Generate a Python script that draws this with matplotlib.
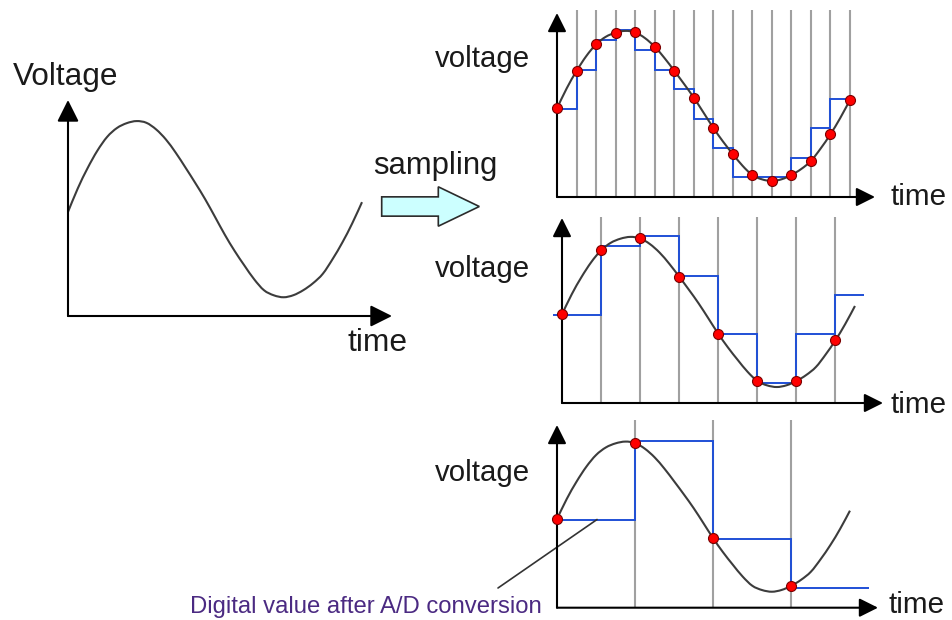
import matplotlib.pyplot as plt
from matplotlib.patches import FancyArrow, PathPatch
from matplotlib.path import Path

plt.rcParams['font.family'] = ['Liberation Sans', 'DejaVu Sans']

W, H = 953, 620

# analog signal, read every half sample period (1 time unit = top panel sample spacing)
signal_t = [i / 2 for i in range(31)]
signal_v = [9.05, 11.1, 12.86, 14.38, 15.58, 16.35, 16.77, 16.95, 16.8, 16.22,
            15.34, 14.19, 12.89, 11.55, 10.15, 8.62, 7.07, 5.66, 4.39, 3.19,
            2.24, 1.8, 1.63, 1.81, 2.24, 2.85, 3.67, 4.95, 6.4, 8.05, 9.9]

# digital values after A/D conversion, held between the step edges
top_edges = [0, 1, 2, 3, 4, 5, 6, 7, 8, 9, 10, 11, 12, 13, 14, 15]
top_digital = [9, 13, 16, 17, 15, 13, 11, 8, 5, 2, 2, 2, 4, 7, 10]
mid_edges = [-0.46, 2, 4, 6, 8, 10, 12, 14, 15.46]
mid_digital = [9, 16, 17, 13, 7, 2, 7, 11]
bot_edges = [0, 4, 8, 12, 16]
bot_digital = [9, 17, 7, 2]

# sampling every n time units in each right-hand panel
top_every, mid_every, bot_every = 1, 2, 4

TXT = '#1a1a1a'
CURVE = '#3c3c3c'
GRID = '#a0a0a0'
BLUE = '#1f4fd6'

fig = plt.figure(figsize=(W / 100, H / 100), dpi=100)
fig.patch.set_facecolor('white')

bg = fig.add_axes([0, 0, 1, 1])
bg.set_xlim(0, W)
bg.set_ylim(H, 0)
bg.axis('off')


def smooth_curve(ax):
    # smooth bezier path through the read points (catmull-rom handles)
    pts = list(zip(signal_t, signal_v))
    verts = [pts[0]]
    codes = [Path.MOVETO]
    n = len(pts)
    for i in range(n - 1):
        p0 = pts[max(i - 1, 0)]
        p1 = pts[i]
        p2 = pts[i + 1]
        p3 = pts[min(i + 2, n - 1)]
        c1 = (p1[0] + (p2[0] - p0[0]) / 6, p1[1] + (p2[1] - p0[1]) / 6)
        c2 = (p2[0] - (p3[0] - p1[0]) / 6, p2[1] - (p3[1] - p1[1]) / 6)
        verts += [c1, c2, p2]
        codes += [Path.CURVE4] * 3
    ax.add_patch(PathPatch(Path(verts, codes), fill=False, ec=CURVE, lw=1.5,
                           zorder=3, clip_on=False))


def panel(ox, oy, tx, ty, sx, sy, ms):
    # ox, oy = origin in pixels, tx/ty = arrow tips, sx/sy = pixels per data unit
    ax = fig.add_axes([ox / W, 1 - oy / H, (tx - ox) / W, (oy - ty) / H])
    ax.set_xlim(0, (tx - ox) / sx)
    ax.set_ylim(0, (oy - ty) / sy)
    ax.axis('off')
    style = '-|>,head_length=0.6,head_width=0.3'
    for tip in [(1, 0), (0, 1)]:
        ax.annotate('', xy=tip, xytext=(0, 0), xycoords='axes fraction',
                    arrowprops=dict(arrowstyle=style, mutation_scale=ms, lw=1.5,
                                    color='black', shrinkA=0, shrinkB=0),
                    annotation_clip=False, zorder=5)
    return ax


def sampled(ax, every, edges, digital, grid_top):
    st = signal_t[::2 * every]
    sv = signal_v[::2 * every]
    ax.vlines(st[1:], 0, grid_top, color=GRID, lw=1.5, zorder=1, clip_on=False)
    ax.stairs(digital, edges, baseline=None, color=BLUE, lw=1.4, zorder=2, clip_on=False)
    smooth_curve(ax)
    ax.plot(st, sv, 'o', ms=7.2, mfc='#ff0000', mec='#7a0000', mew=0.8, zorder=6,
            clip_on=False)


# left: the analog signal
left = panel(68, 316, 392, 100, 19.6, 11.5, 22)
smooth_curve(left)

top = panel(557, 197, 875, 13, 19.53, 9.8, 19)
sampled(top, top_every, top_edges, top_digital, 19.08)

mid = panel(562, 403, 883, 218, 19.53, 9.8, 19)
sampled(mid, mid_every, mid_edges, mid_digital, 19.0)

bot = panel(557, 607.7, 878, 425, 19.53, 9.8, 19)
sampled(bot, bot_every, bot_edges, bot_digital, 19.15)

# block arrow "sampling"
bg.add_patch(FancyArrow(381.7, 206.5, 97.6, 0, width=19.3, head_width=39.4,
                        head_length=41, length_includes_head=True,
                        fc='#ccffff', ec='#2b2b2b', lw=1.2))

kw = dict(ha='left', va='baseline', color=TXT)
bg.text(13, 85, 'Voltage', fontsize=22.7, **kw)
bg.text(348, 351, 'time', fontsize=22.9, **kw)
bg.text(373, 174, 'sampling', fontsize=22.3, **kw)
for y in [67.3, 276.7, 481]:
    bg.text(435, y, 'voltage', fontsize=21.2, **kw)
for x, y in [(891, 205), (891, 413), (889, 613)]:
    bg.text(x, y, 'time', fontsize=21.3, **kw)

bg.text(190, 612.7, 'Digital value after A/D conversion', fontsize=17.2,
        ha='left', va='baseline', color='#4b2a82')
bot.annotate('', xy=(2.05, 9), xycoords='data', xytext=(498, 588),
             textcoords=bg.transData, annotation_clip=False,
             arrowprops=dict(arrowstyle='-', color='#333333', lw=1.2,
                             shrinkA=0, shrinkB=0))

fig.savefig('out.png', dpi=100)
